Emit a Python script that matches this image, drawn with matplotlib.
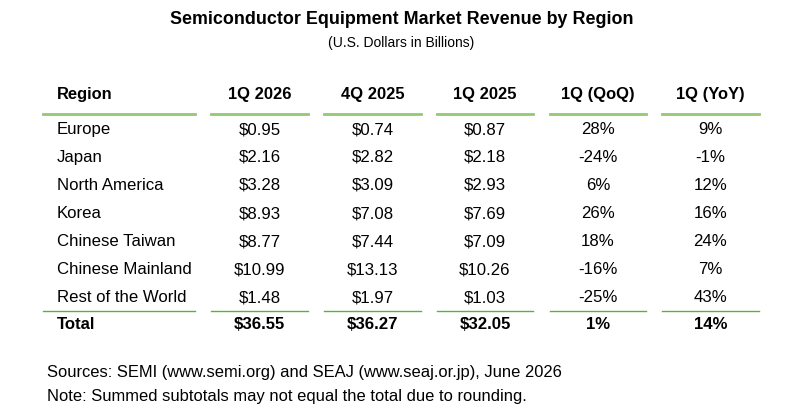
import matplotlib
matplotlib.use("Agg")
import matplotlib.pyplot as plt
from matplotlib.lines import Line2D

plt.rcParams['font.family'] = ['Liberation Sans', 'DejaVu Sans']

W, H = 803, 408

columns = ["Region", "1Q 2026", "4Q 2025", "1Q 2025", "1Q (QoQ)", "1Q (YoY)"]
regions = ["Europe", "Japan", "North America", "Korea", "Chinese Taiwan",
           "Chinese Mainland", "Rest of the World"]
q1_2026 = [0.95, 2.16, 3.28, 8.93, 8.77, 10.99, 1.48]
q4_2025 = [0.74, 2.82, 3.09, 7.08, 7.44, 13.13, 1.97]
q1_2025 = [0.87, 2.18, 2.93, 7.69, 7.09, 10.26, 1.03]
qoq = [28, -24, 6, 26, 18, -16, -25]
yoy = [9, -1, 12, 16, 24, 7, 43]
totals = [36.55, 36.27, 32.05]
total_qoq = 1
total_yoy = 14

title = "Semiconductor Equipment Market Revenue by Region"
subtitle = "(U.S. Dollars in Billions)"
notes = ["Sources: SEMI (www.semi.org) and SEAJ (www.seaj.or.jp), June 2026",
         "Note: Summed subtotals may not equal the total due to rounding."]

fig = plt.figure(figsize=(W / 100, H / 100), dpi=100)
fig.patch.set_facecolor("white")


def fx(x):
    return x / W


def fy(y):
    return 1 - y / H


def txt(x, y, s, **kw):
    fig.text(fx(x), fy(y), s, va="center", **kw)


# column extents (pixels)
col_spans = [(43, 195), (211, 308), (324, 421), (437, 533), (550, 646), (662, 759)]
centers = [(a + b) / 2 for a, b in col_spans]
region_x = 57
fs = 12.1

txt(W / 2, 19, title, ha="center", fontsize=12.9, fontweight="bold")
txt(W / 2, 43, subtitle, ha="center", fontsize=10.0)

header_y = 95
for i, c in enumerate(columns):
    if i == 0:
        txt(region_x, header_y, c, ha="left", fontsize=11.9, fontweight="bold")
    else:
        txt(centers[i], header_y, c, ha="center", fontsize=11.9, fontweight="bold")

for a, b in col_spans:
    fig.add_artist(Line2D([fx(a), fx(b)], [fy(114), fy(114)], color="#93c972", lw=2.0))
    fig.add_artist(Line2D([fx(a), fx(b)], [fy(310.5), fy(310.5)], color="#5bb52c", lw=1.0))

row0, step = 129.5, 28
for r, name in enumerate(regions):
    y = row0 + r * step
    vals = [f"${q1_2026[r]:.2f}", f"${q4_2025[r]:.2f}", f"${q1_2025[r]:.2f}",
            f"{qoq[r]}%", f"{yoy[r]}%"]
    txt(region_x, y, name, ha="left", fontsize=fs)
    for j, v in enumerate(vals):
        txt(centers[j + 1], y, v, ha="center", fontsize=fs)

ty = 324.5
tvals = [f"${t:.2f}" for t in totals] + [f"{total_qoq}%", f"{total_yoy}%"]
txt(region_x, ty, "Total", ha="left", fontsize=fs, fontweight="bold")
for j, v in enumerate(tvals):
    txt(centers[j + 1], ty, v, ha="center", fontsize=fs, fontweight="bold")

txt(47, 373, notes[0], ha="left", fontsize=11.9)
txt(47, 396, notes[1], ha="left", fontsize=11.9)

fig.savefig("out.png", dpi=100)
